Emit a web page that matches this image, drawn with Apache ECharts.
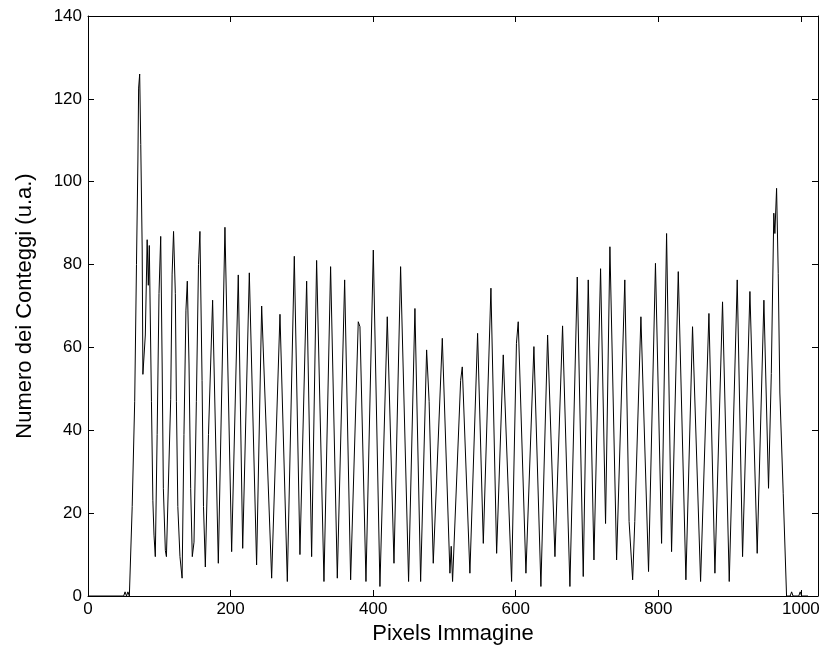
<!DOCTYPE html>
<html>
<head>
<meta charset="utf-8">
<script src="https://cdn.jsdelivr.net/npm/echarts@6/dist/echarts.min.js"></script>
<style>html,body{margin:0;padding:0;background:#fff;}#c{width:827px;height:651px;}</style>
</head>
<body>
<div id="c"></div>
<script>
// Pixel position along the image (x) and counts (y)
const pixelX = [0,50,52,54,56,58,60,62,65.5,68,70,71,72.5,74,76,77,80.4,83,84.6,86,89,91,92.6,94.4,
97,99.6,102,104,105.7,108.5,110,116,118,120,122.5,124,126,129,132,134.6,137.4,139.3,141.7,144,146.3,148.7,
152,155,157,160,162,164.6,169,174.8,182.8,192.1,201.5,210.8,217,226.3,236.5,243.6,257.6,269.3,279.6,289.4,
297.3,306.7,313.7,320.7,331,340.3,349.7,360,368.4,379.1,381.5,389.9,400.2,409.5,419.8,429.2,438.5,449.7,
458.6,466.6,475,478.5,484.3,497,507.7,509.5,511.4,522.7,525,535.7,546.5,554.5,565.2,573.2,582.5,594.2,
601,603.5,614.3,625.5,635.3,644.7,655,665.7,676,686.3,694.7,701.7,709.7,719,726,732.1,741.5,753,759,764,
767,775.6,786.3,796,804.6,811.6,818.6,828,838.7,848,859.3,871,879.4,890.1,899.5,910.7,918.2,928.5,938.7,
948.1,954.6,958.5,962,963.5,965.9,968.2,970.5,975.2,979.9,985,987,989,997,999,1001,1010];
const counts = [0,0,1,0,1,0,0,21.6,47,80,105,122.6,126,109,84,53.5,63,86,75,84.6,47,23,14.7,9.5,
39,73,86.8,56,26,11,9.5,47.5,77.7,88,73,47,21.6,9.5,4.3,39,69,76,56,26,9.5,13,
47,80,88,52,21.6,7,39,71.4,7.9,89,10.7,77.5,11.5,78,7.5,70,4.3,68,3.5,82,
10,76,9.5,81,3.5,79.5,4.3,76.3,3.9,66.2,65,3.5,83.5,2.3,67.4,7.9,79.5,3.5,
69.4,3.5,59.4,47,7.9,62.2,5.5,12,3.5,52,55.3,5.5,63.4,12.7,74.3,10.3,58.2,3.5,
61,66.2,5.5,60.2,2.3,63,9.5,65.2,2.3,77,4.7,76.3,8.7,79,17.5,84.3,8.7,76.3,18,3.9,
18,67.4,5.9,80.3,12.7,87.5,10.7,78.3,3.9,65,3.5,68.2,5.5,71,3.5,76.3,9.5,73.5,10.3,
71.4,26,53.7,92.4,87.5,98.4,77.9,49,24.8,0,0,1,0,0,1,0,0];
const xTicks = [0,200,400,600,800,1000];
const xMin = 0, xMax = 1024, xStep = 200;
const yMin = 0, yMax = 140, yStep = 20;

const data = pixelX.map((x, i) => [x, counts[i]]);
const font = 'Arial, "Liberation Sans", Helvetica, sans-serif';
const axisLine = {show: true, onZero: false, lineStyle: {color: '#000', width: 1}};
const tickIn = {inside: true, length: 6, lineStyle: {color: '#000', width: 1}};
const plain = v => String(v);

const chart = echarts.init(document.getElementById('c'), null, {renderer: 'canvas'});
chart.setOption({
  animation: false,
  backgroundColor: '#fff',
  grid: {left: 88, right: 9, top: 16, bottom: 55, containLabel: false},
  xAxis: [{
    type: 'value', min: xMin, max: xMax, interval: xStep, position: 'bottom',
    name: 'Pixels Immagine', nameLocation: 'middle', nameGap: 25,
    nameTextStyle: {fontFamily: font, fontSize: 22, color: '#000'},
    axisLine: axisLine,
    axisTick: Object.assign({customValues: xTicks}, tickIn),
    axisLabel: {customValues: xTicks, formatter: plain, fontFamily: font, fontSize: 17, color: '#000', margin: 5},
    splitLine: {show: false}
  }, {
    type: 'value', min: xMin, max: xMax, interval: xStep, position: 'top',
    axisLine: axisLine,
    axisTick: Object.assign({customValues: xTicks}, tickIn),
    axisLabel: {show: false}, splitLine: {show: false}
  }],
  yAxis: [{
    type: 'value', min: yMin, max: yMax, interval: yStep, position: 'left',
    name: 'Numero dei Conteggi (u.a.)', nameLocation: 'middle', nameGap: 52,
    nameTextStyle: {fontFamily: font, fontSize: 22, color: '#000'},
    axisLine: axisLine, axisTick: tickIn,
    axisLabel: {formatter: plain, fontFamily: font, fontSize: 17, color: '#000', margin: 6},
    splitLine: {show: false}
  }, {
    type: 'value', min: yMin, max: yMax, interval: yStep, position: 'right',
    axisLine: axisLine, axisTick: tickIn,
    axisLabel: {show: false}, splitLine: {show: false}
  }],
  series: [{
    type: 'line', xAxisIndex: 0, yAxisIndex: 0, data: data,
    showSymbol: false, symbol: 'none',
    lineStyle: {color: '#000', width: 1}
  }]
});
</script>
</body>
</html>
